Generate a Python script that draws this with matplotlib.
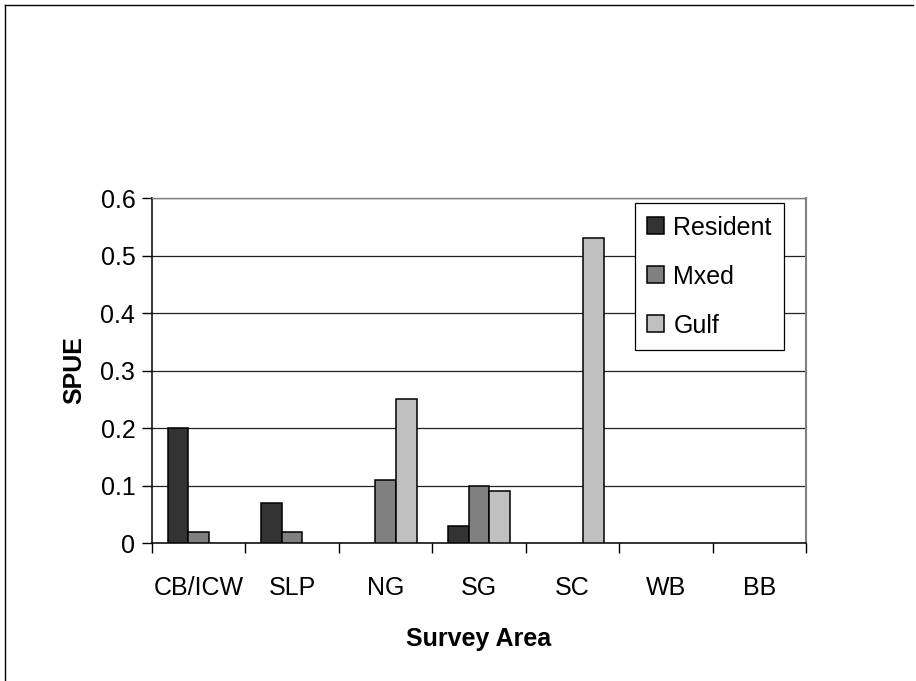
import numpy as np
import matplotlib.pyplot as plt
from matplotlib.lines import Line2D

plt.rcParams["font.family"] = ["Liberation Sans", "DejaVu Sans"]

################################################
## Data

areas = ["CB/ICW", "SLP", "NG", "SG", "SC", "WB", "BB"]
resident = [0.20, 0.07, 0.0, 0.03, 0.0, 0.0, 0.0]
mixed = [0.02, 0.02, 0.11, 0.10, 0.0, 0.0, 0.0]
gulf = [0.0, 0.0, 0.25, 0.09, 0.53, 0.0, 0.0]
series_names = ["Resident", "Mxed", "Gulf"]
series_colors = ["#333333", "#808080", "#c0c0c0"]
yticks = [0, 0.1, 0.2, 0.3, 0.4, 0.5, 0.6]

################################################

fontsize = 18

fig = plt.figure(figsize=(9.16, 6.81), dpi=100)
ax = fig.add_axes([0.1659, 0.2026, 0.714, 0.5066])

x = np.arange(len(areas))
w = 1 / 4.5
for i, (vals, name, cc) in enumerate(zip([resident, mixed, gulf], series_names, series_colors)):
    vals = np.array(vals)
    keep = vals > 0  # Excel shows nothing for zero values
    ax.bar(x[keep] + (i - 1) * w, vals[keep], w, color=cc, edgecolor="black", lw=1.1,
           label=name, zorder=3)

ax.set_xlim(-0.5, len(areas) - 0.5)
ax.set_ylim(0, 0.6)
ax.set_yticks(yticks)
ax.set_yticklabels(["0" if v == 0 else "{:.1f}".format(v) for v in yticks], fontsize=fontsize)
ax.yaxis.grid(True, color="#222222", lw=0.9, zorder=0)

# x ticks on category boundaries, labels centered
ax.set_xticks(np.arange(len(areas) + 1) - 0.5)
ax.set_xticklabels([])
ax.set_xticks(x, minor=True)
ax.set_xticklabels(areas, minor=True, fontsize=fontsize)
ax.tick_params(axis="x", which="minor", length=0, pad=24)
ax.tick_params(axis="x", which="major", length=7, width=1, direction="out")
ax.tick_params(axis="y", length=7, width=1, direction="out", pad=5)

for s in ["left", "bottom"]:
    ax.spines[s].set_color("black")
    ax.spines[s].set_linewidth(1.1)
ax.spines["right"].set_color("#808080")
ax.spines["right"].set_linewidth(1.5)
ax.spines["top"].set_color("#808080")
ax.spines["top"].set_linewidth(1.0)

ax.set_ylabel("SPUE", fontsize=fontsize, fontweight="bold", labelpad=10)
ax.set_xlabel("Survey Area", fontsize=fontsize, fontweight="bold", labelpad=19)

leg = ax.legend(loc="upper left", bbox_to_anchor=(0.7385, 0.9855), fontsize=fontsize,
                frameon=True, fancybox=False, edgecolor="black", framealpha=1,
                handlelength=0.68, handleheight=0.68, handletextpad=0.36,
                labelspacing=1.0, borderpad=0.5, borderaxespad=0)
leg.get_frame().set_linewidth(0.9)
leg.set_zorder(5)

# outer frame (top and left edges)
fig.add_artist(Line2D([5 / 916, 913 / 916], [1 - 5 / 681, 1 - 5 / 681],
                      transform=fig.transFigure, color="black", lw=1))
fig.add_artist(Line2D([5 / 916, 5 / 916], [0, 1 - 5 / 681],
                      transform=fig.transFigure, color="black", lw=1))

plt.savefig("out.png", dpi=100)
plt.close("all")
